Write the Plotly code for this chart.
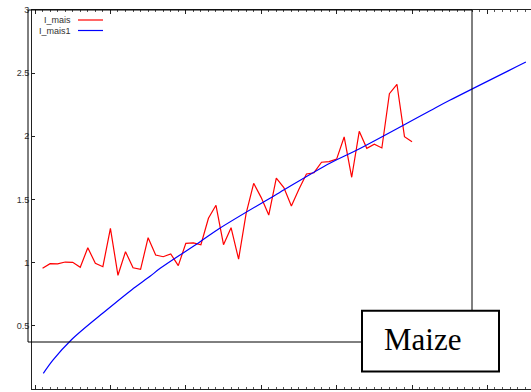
import plotly.graph_objects as go

# ---- data ----
years = list(range(1961, 2011))
i_mais = [0.955, 0.992, 0.990, 1.005, 1.003, 0.963, 1.118, 0.995, 0.968, 1.272,
          0.900, 1.087, 0.960, 0.947, 1.198, 1.060, 1.047, 1.069, 0.977, 1.153,
          1.157, 1.142, 1.351, 1.454, 1.142, 1.277, 1.028, 1.390, 1.628, 1.515,
          1.377, 1.670, 1.594, 1.449, 1.581, 1.702, 1.712, 1.795, 1.800, 1.820,
          1.995, 1.676, 2.040, 1.905, 1.937, 1.908, 2.338, 2.412, 1.997, 1.958]

fit_years = [1961.1, 1962.4, 1964.8, 1969.5, 1972.8, 1975.3, 1976.6, 1981.9,
             1984.5, 1992.4, 1999.1, 2002.7, 2012.4, 2015.0, 2025.1]
i_mais1 = [0.123, 0.230, 0.388, 0.625, 0.784, 0.894, 0.955, 1.166,
           1.272, 1.554, 1.787, 1.892, 2.203, 2.285, 2.588]

y_ticks = [0, 0.5, 1, 1.5, 2, 2.5, 3]
y_tick_labels = ["0", "0.5", "1", "1.5", "2", "2.5", "3"]
legend_names = ["I_mais", "I_mais1"]
label_text = "Maize"

W, H = 531, 392
L, T, B, R = 32, 10, 3, 0
pw, ph = W - L - R, H - T - B

def px(x):
    return (x - L) / pw

def py(y):
    return (H - B - y) / ph

fig = go.Figure()
fig.add_trace(go.Scatter(x=years, y=i_mais, mode="lines", name=legend_names[0],
                         line=dict(color="#ff0000", width=1.2)))
fig.add_trace(go.Scatter(x=fit_years, y=i_mais1, mode="lines", name=legend_names[1],
                         line=dict(color="#0000ff", width=1.2, shape="spline")))

fig.update_layout(
    width=W, height=H,
    margin=dict(l=L, r=R, t=T, b=B, pad=0),
    paper_bgcolor="white", plot_bgcolor="white",
    showlegend=False,
    font=dict(family="Liberation Sans, Arial, sans-serif", size=9, color="#333"),
)
fig.update_xaxes(
    range=[1959.6, 1959.6 + pw / 7.54],
    showgrid=False, zeroline=False, showticklabels=False,
    showline=True, linecolor="#222", linewidth=1, mirror="ticks",
    ticks="inside", tick0=1960, dtick=10, ticklen=4, tickcolor="#222",
    minor=dict(ticks="inside", dtick=1, ticklen=2, tickcolor="#555"),
)
fig.update_yaxes(
    range=[0, 3], showgrid=False, zeroline=False,
    showline=True, linecolor="#222", linewidth=1, mirror=False,
    ticks="inside", ticklen=3, tickcolor="#222",
    tickvals=y_ticks, ticktext=y_tick_labels,
    tickfont=dict(size=9, color="#333"),
)

# overlay rectangle
fig.add_shape(type="rect", xref="paper", yref="paper",
              x0=px(28), x1=px(472), y0=py(342), y1=py(10),
              line=dict(color="black", width=1), fillcolor="rgba(0,0,0,0)", layer="above")
# Maize box
fig.add_shape(type="rect", xref="paper", yref="paper",
              x0=px(362), x1=px(499), y0=py(371.5), y1=py(310.7),
              line=dict(color="black", width=2), fillcolor="white", layer="above")
fig.add_annotation(xref="paper", yref="paper", x=px(422.5), y=py(339),
                   text=label_text, showarrow=False, xanchor="center", yanchor="middle",
                   font=dict(family="Liberation Serif, Times New Roman, serif", size=31, color="black"))

# custom legend
for i, (name, col) in enumerate(zip(legend_names, ["#ff0000", "#0000ff"])):
    yy = 20 + i * 10.5
    fig.add_annotation(xref="paper", yref="paper", x=px(73), y=py(yy), text=name,
                       showarrow=False, xanchor="right", yanchor="middle",
                       font=dict(size=9, color="#333"))
    fig.add_shape(type="line", xref="paper", yref="paper",
                  x0=px(78), x1=px(103), y0=py(yy), y1=py(yy),
                  line=dict(color=col, width=1.2))

fig.write_html("out.html", config={"displayModeBar": False},
               post_script="document.body.style.margin='0';")
